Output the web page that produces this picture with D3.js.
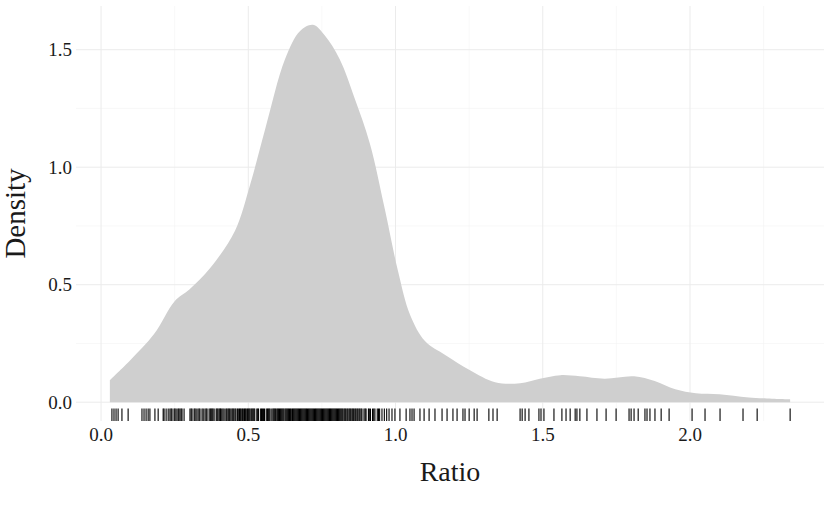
<!DOCTYPE html>
<html>
  <head>
    <meta charset="utf-8">
    <title>Ratio density</title>
    <script src="https://d3js.org/d3.v7.min.js"></script>
    <style>
      body { margin: 0; background: #fff; }
      svg text { font-family: "Liberation Serif", "DejaVu Serif", serif; fill: #1a1a1a; }
    </style>
  </head>
  <body>
    <svg id="chart" width="830" height="513"></svg>
    <script>
      // density curve: ratio, density
      var densX = [0.03, 0.10, 0.18, 0.25, 0.30, 0.37, 0.455, 0.505, 0.557, 0.625, 0.676, 0.72, 0.76, 0.81, 0.862, 0.913, 0.964, 1.008, 1.05, 1.10, 1.17, 1.253, 1.338, 1.423, 1.49, 1.56, 1.626, 1.71, 1.81, 1.88, 1.95, 2.02, 2.10, 2.20, 2.34];
      var densY = [0.094, 0.18, 0.29, 0.43, 0.48, 0.57, 0.73, 0.92, 1.16, 1.46, 1.58, 1.606, 1.56, 1.46, 1.29, 1.10, 0.82, 0.56, 0.37, 0.26, 0.20, 0.136, 0.085, 0.081, 0.10, 0.115, 0.11, 0.10, 0.11, 0.09, 0.055, 0.038, 0.034, 0.02, 0.012];
      // observations shown in the rug
      var rug = [0.037, 0.044, 0.051, 0.058, 0.071, 0.092, 0.139, 0.146, 0.153, 0.160, 0.166, 0.183, 0.194,
        0.214, 0.221, 0.228, 0.234, 0.241, 0.248, 0.255, 0.261, 0.268, 0.275, 0.282, 0.302, 0.309, 0.316,
        0.323, 0.329, 0.336, 0.343, 0.353, 0.360, 0.367, 0.374, 0.380,
        0.211, 0.238, 0.251, 0.264, 0.272, 0.306, 0.319, 0.333, 0.347, 0.357, 0.371, 0.377,
        0.384, 0.391, 0.397, 0.404, 0.41, 0.418, 0.431, 0.437, 0.445, 0.451, 0.458, 0.463, 0.47, 0.476,
        0.483, 0.49, 0.497, 0.503, 0.51, 0.516, 0.522, 0.529, 0.535, 0.542, 0.548, 0.555, 0.561, 0.568,
        0.574, 0.58, 0.587, 0.593, 0.6, 0.606, 0.612, 0.618, 0.625, 0.631, 0.637, 0.643, 0.65, 0.656,
        0.662, 0.668, 0.674, 0.68, 0.686, 0.692, 0.698, 0.704, 0.71, 0.716, 0.722, 0.728, 0.734, 0.74,
        0.746, 0.752, 0.758, 0.764, 0.77, 0.776, 0.782, 0.788, 0.794, 0.8, 0.806, 0.812, 0.818, 0.825,
        0.831, 0.838, 0.845, 0.852, 0.858, 0.865, 0.872, 0.879, 0.886, 0.893, 0.9, 0.908, 0.915, 0.922,
        0.93, 0.938, 0.946, 0.954, 0.962, 0.97,
        0.394, 0.401, 0.414, 0.424, 0.434, 0.448, 0.455, 0.473, 0.48, 0.493, 0.5, 0.513,
        0.406, 0.427, 0.441, 0.466, 0.487, 0.506, 0.519, 0.532, 0.545, 0.552, 0.565, 0.571, 0.584,
        0.59, 0.597, 0.603, 0.609, 0.615, 0.621, 0.628, 0.634, 0.64, 0.646, 0.653, 0.659, 0.665,
        0.671, 0.677, 0.683, 0.689, 0.695, 0.701, 0.707, 0.713, 0.719, 0.725, 0.731, 0.737, 0.743,
        0.749, 0.755, 0.761, 0.767, 0.773, 0.779, 0.785, 0.791, 0.797, 0.803, 0.809, 0.815, 0.821,
        0.828, 0.835, 0.842, 0.848, 0.855, 0.862, 0.869, 0.876, 0.883, 0.897, 0.911, 0.926, 0.942,
        0.978, 0.988, 0.998, 1.015, 1.036, 1.049, 1.056, 1.063, 1.083, 1.097, 1.114, 1.134, 1.158,
        1.175, 1.195, 1.209, 1.229, 1.236, 1.250, 1.267, 1.277, 1.317, 1.331, 1.345, 1.423, 1.430,
        1.440, 1.453, 1.487, 1.494, 1.504, 1.538, 1.565, 1.579, 1.593, 1.610, 1.616, 1.626, 1.650,
        1.684, 1.715, 1.749, 1.793, 1.800, 1.810, 1.824, 1.847, 1.854, 1.864, 1.881, 1.902, 1.929,
        2.007, 2.051, 2.102, 2.180, 2.228, 2.340];
      var xTicks = [0, 0.5, 1.0, 1.5, 2.0];
      var xMinor = [0.25, 0.75, 1.25, 1.75, 2.25];
      var yTicks = [0, 0.5, 1.0, 1.5];
      var yMinor = [0.25, 0.75, 1.25];

      var svg = d3.select("#chart");
      // panel bounds
      var pLeft = 76, pRight = 824, pTop = 6, pBottom = 421;
      var x = d3.scaleLinear().domain([-0.085, 2.455]).range([pLeft, pRight]);
      var y = d3.scaleLinear().domain([-0.08, 1.686]).range([pBottom, pTop]);

      // grid lines
      var grid = svg.append("g");
      grid.selectAll(".vminor").data(xMinor).enter().append("line")
        .attr("x1", function(d) { return x(d); }).attr("x2", function(d) { return x(d); })
        .attr("y1", pTop).attr("y2", pBottom)
        .attr("stroke", "#f3f3f3").attr("stroke-width", 0.6);
      grid.selectAll(".hminor").data(yMinor).enter().append("line")
        .attr("x1", pLeft).attr("x2", pRight)
        .attr("y1", function(d) { return y(d); }).attr("y2", function(d) { return y(d); })
        .attr("stroke", "#f3f3f3").attr("stroke-width", 0.6);
      grid.selectAll(".vmajor").data(xTicks).enter().append("line")
        .attr("x1", function(d) { return x(d); }).attr("x2", function(d) { return x(d); })
        .attr("y1", pTop).attr("y2", pBottom)
        .attr("stroke", "#ebebeb").attr("stroke-width", 1);
      grid.selectAll(".hmajor").data(yTicks).enter().append("line")
        .attr("x1", pLeft).attr("x2", pRight)
        .attr("y1", function(d) { return y(d); }).attr("y2", function(d) { return y(d); })
        .attr("stroke", "#ebebeb").attr("stroke-width", 1);

      // density area
      var pts = densX.map(function(d, i) { return [d, densY[i]]; });
      var area = d3.area()
        .x(function(d) { return x(d[0]); })
        .y0(y(0))
        .y1(function(d) { return y(d[1]); })
        .curve(d3.curveCatmullRom);
      svg.append("path")
        .datum(pts)
        .attr("d", area)
        .attr("fill", "#cfcfcf");

      // rug
      var rugLen = (pBottom - pTop) * 0.03;
      svg.append("g").selectAll("line").data(rug).enter().append("line")
        .attr("x1", function(d) { return x(d); }).attr("x2", function(d) { return x(d); })
        .attr("y1", pBottom).attr("y2", pBottom - rugLen)
        .attr("stroke", "#000").attr("stroke-width", 1.1);

      // tick labels
      svg.append("g").selectAll("text").data(xTicks).enter().append("text")
        .attr("x", function(d) { return x(d); })
        .attr("y", 441)
        .attr("text-anchor", "middle")
        .attr("font-size", 19)
        .text(function(d) { return d3.format(".1f")(d); });
      svg.append("g").selectAll("text").data(yTicks).enter().append("text")
        .attr("x", 72)
        .attr("y", function(d) { return y(d); })
        .attr("dy", "0.35em")
        .attr("text-anchor", "end")
        .attr("font-size", 19)
        .text(function(d) { return d3.format(".1f")(d); });

      // axis titles
      svg.append("text")
        .attr("x", (pLeft + pRight) / 2)
        .attr("y", 481)
        .attr("text-anchor", "middle")
        .attr("font-size", 28)
        .text("Ratio");
      svg.append("text")
        .attr("transform", "translate(25," + ((pTop + pBottom) / 2) + ") rotate(-90)")
        .attr("text-anchor", "middle")
        .attr("font-size", 29)
        .text("Density");
    </script>
  </body>
</html>
